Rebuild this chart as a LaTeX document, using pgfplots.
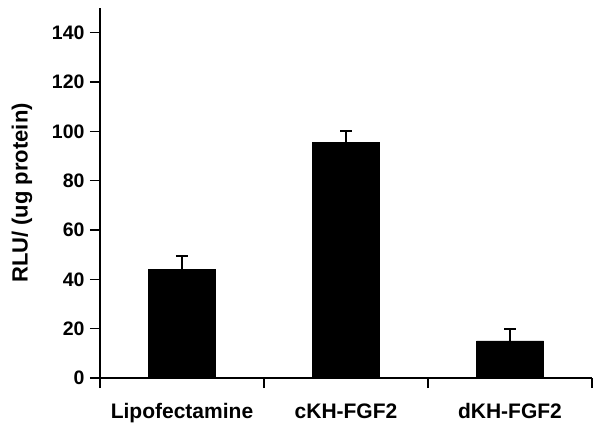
\documentclass[border=0pt]{standalone}
\usepackage{fontspec}
\setmainfont{Liberation Sans}
\usepackage{pgfplots}
\pgfplotsset{compat=1.18}
\begin{document}
\begin{tikzpicture}
\begin{axis}[
  scale only axis, width=492pt, height=370pt,
  xmin=0, xmax=3, ymin=0, ymax=150,
  axis x line=bottom, axis y line=left,
  axis line style={line width=1.3pt, -},
  xtick={0,1,2,3}, xticklabels={},
  extra x ticks={0.5,1.5,2.5},
  extra x tick labels={Lipofectamine, cKH-FGF2, dKH-FGF2},
  extra x tick style={major tick length=0pt},
  xticklabel style={font=\fontsize{21}{21}\selectfont\bfseries, yshift=-22pt},
  ytick={0,20,...,140},
  tick align=outside, major tick length=10pt,
  tick style={line width=1.3pt, black},
  yticklabel style={font=\fontsize{19.5}{19.5}\selectfont\bfseries, xshift=-2pt},
  /pgf/number format/assume math mode=true,
  ylabel={RLU/ (ug protein)},
  ylabel style={font=\fontsize{22}{22}\selectfont\bfseries, at={(axis description cs:0,0.5)}, yshift=78pt, anchor=center},
  clip=false,
]
\addplot[ybar, bar width=67pt, fill=black, draw=black,
  error bars/.cd, y dir=plus, y explicit,
  error bar style={line width=1.6pt, black},
  error mark options={rotate=90, mark size=6pt, line width=1.6pt, black}]
  coordinates {(0.5,44) +- (0,5.5) (1.5,95.5) +- (0,4.7) (2.5,15) +- (0,4.8)};
\end{axis}
\path ([shift={(-100pt,-55pt)}]current axis.south west) rectangle ([shift={(10pt,8pt)}]current axis.north east);
\end{tikzpicture}
\end{document}
